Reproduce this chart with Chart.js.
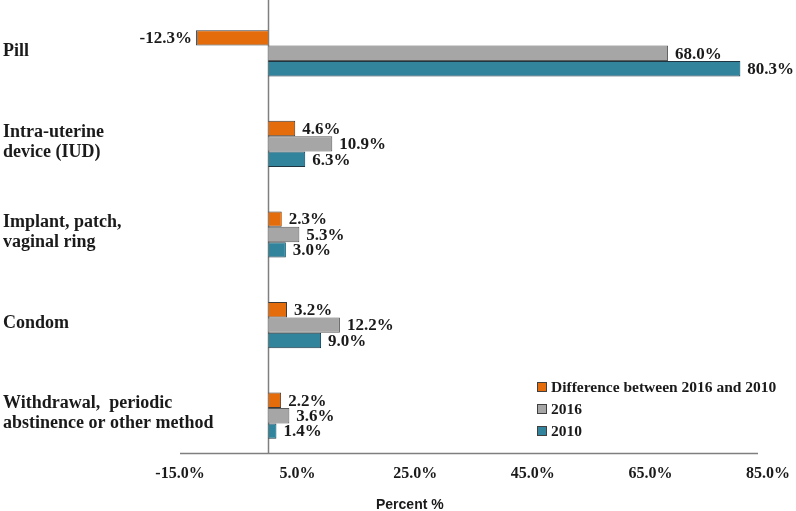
<!DOCTYPE html>
<html>
<head>
<meta charset="utf-8">
<script src="https://cdn.jsdelivr.net/npm/chart.js@4/dist/chart.umd.min.js"></script>
<style>
    body { margin: 0; background: #fff; overflow: hidden; }
    #wrap { position: relative; width: 796px; height: 511px; }
    #contraChart { display: block; }
    #axisTitle {
        position: absolute; left: 376px; top: 496px;
        font: bold 14px "Liberation Sans", Arial, sans-serif; color: #1a1a1a;
        line-height: 16px;
    }
</style>
</head>
<body>
<div id="wrap">
    <canvas id="contraChart" width="796" height="511"></canvas>
    <div id="axisTitle">Percent %</div>
</div>
<script>
// Categorias (de cima para baixo)
var categorias = [
    'Pill',
    ['Intra-uterine', 'device (IUD)'],
    ['Implant, patch,', 'vaginal ring'],
    'Condom',
    ['Withdrawal,  periodic', 'abstinence or other method']
];

var serieNomes = ['Difference between 2016 and 2010', '2016', '2010'];
var diferenca = [-12.3, 4.6, 2.3, 3.2, 2.2];
var valores2016 = [68.0, 10.9, 5.3, 12.2, 3.6];
var valores2010 = [80.3, 6.3, 3.0, 9.0, 1.4];

var ticksX = [-15, 5, 25, 45, 65, 85];

var serif = '"Liberation Serif", "Times New Roman", serif';

// Linha vertical no zero e linha do eixo horizontal (um pouco acima da base das categorias)
var axisLinesPlugin = {
    id: 'axisLines',
    beforeDatasetsDraw: function(chart) {
        var ctx = chart.ctx;
        var area = chart.chartArea;
        var x = Math.round(chart.scales.x.getPixelForValue(0)) + 0.5;
        var yBase = Math.round(area.bottom - 8) + 0.5;
        ctx.save();
        ctx.strokeStyle = '#7f7f7f';
        ctx.lineWidth = 1.5;
        ctx.beginPath();
        ctx.moveTo(x, 0);
        ctx.lineTo(x, yBase);
        ctx.moveTo(area.left, yBase);
        ctx.lineTo(area.right - 10, yBase);
        ctx.stroke();
        ctx.restore();
    }
};

// Nomes das categorias alinhados a esquerda (podem passar da area do eixo)
var categoryLabelsPlugin = {
    id: 'categoryLabels',
    afterDraw: function(chart) {
        var ctx = chart.ctx;
        var yScale = chart.scales.y;
        var lineH = 20;
        ctx.save();
        ctx.font = 'bold 18px ' + serif;
        ctx.fillStyle = '#1a1a1a';
        ctx.textBaseline = 'middle';
        ctx.textAlign = 'left';
        chart.data.labels.forEach(function(lbl, i) {
            var linhas = Array.isArray(lbl) ? lbl : [lbl];
            var yc = yScale.getPixelForValue(i) - 2;
            var y0 = yc - (linhas.length - 1) * lineH / 2;
            for (var k = 0; k < linhas.length; k++) {
                ctx.fillText(linhas[k], 3, y0 + k * lineH);
            }
        });
        ctx.restore();
    }
};

// Rotulos de valor ao lado das barras
var valueLabelsPlugin = {
    id: 'valueLabels',
    afterDatasetsDraw: function(chart) {
        var ctx = chart.ctx;
        ctx.save();
        ctx.font = 'bold 17px ' + serif;
        ctx.fillStyle = '#1a1a1a';
        ctx.textBaseline = 'middle';
        chart.data.datasets.forEach(function(ds, di) {
            var meta = chart.getDatasetMeta(di);
            meta.data.forEach(function(bar, i) {
                var v = ds.data[i];
                var txt = v.toFixed(1) + '%';
                if (v < 0) {
                    ctx.textAlign = 'right';
                    ctx.fillText(txt, bar.x - 4, bar.y + 1);
                } else {
                    ctx.textAlign = 'left';
                    ctx.fillText(txt, bar.x + 7, bar.y + 1);
                }
            });
        });
        ctx.restore();
    }
};

// Legenda dentro da area do grafico
var legendPlugin = {
    id: 'insideLegend',
    afterDraw: function(chart) {
        var ctx = chart.ctx;
        var x0 = 537, y0 = 387, gap = 22;
        ctx.save();
        ctx.font = 'bold 15.5px ' + serif;
        ctx.textBaseline = 'middle';
        ctx.textAlign = 'left';
        chart.data.datasets.forEach(function(ds, i) {
            var y = y0 + i * gap;
            ctx.fillStyle = ds.backgroundColor;
            ctx.fillRect(x0, y - 5, 9, 9);
            ctx.strokeStyle = '#404040';
            ctx.lineWidth = 1;
            ctx.strokeRect(x0 + 0.5, y - 4.5, 9, 9);
            ctx.fillStyle = '#1a1a1a';
            ctx.fillText(ds.label, x0 + 14, y + 1);
        });
        ctx.restore();
    }
};

var chart = new Chart(document.getElementById('contraChart'), {
    type: 'bar',
    data: {
        labels: categorias,
        datasets: [{
            label: serieNomes[0],
            data: diferenca,
            backgroundColor: '#e46c0a',
            borderColor: '#3a3a3a',
            borderWidth: 1
        }, {
            label: serieNomes[1],
            data: valores2016,
            backgroundColor: '#a6a6a6',
            borderColor: '#5a5a5a',
            borderWidth: 1
        }, {
            label: serieNomes[2],
            data: valores2010,
            backgroundColor: '#31849b',
            borderColor: '#1f3540',
            borderWidth: 1
        }]
    },
    options: {
        indexAxis: 'y',
        responsive: false,
        animation: false,
        layout: { padding: { top: 8, right: 28, left: 0, bottom: 0 } },
        datasets: { bar: { categoryPercentage: 0.51, barPercentage: 1.0 } },
        scales: {
            x: {
                min: -15,
                max: 85,
                afterBuildTicks: function(scale) {
                    scale.ticks = ticksX.map(function(v) { return { value: v }; });
                },
                afterFit: function(scale) { scale.height = 50; },
                grid: { display: false },
                border: { display: false },
                ticks: {
                    padding: -5,
                    color: '#1a1a1a',
                    font: { family: serif, size: 16, weight: 'bold' },
                    callback: function(v) { return v.toFixed(1) + '%'; }
                }
            },
            y: {
                afterFit: function(scale) { scale.width = 180; },
                grid: { display: false },
                border: { display: false },
                ticks: { display: false }
            }
        },
        plugins: {
            legend: { display: false },
            tooltip: { enabled: false }
        }
    },
    plugins: [axisLinesPlugin, valueLabelsPlugin, categoryLabelsPlugin, legendPlugin]
});
</script>
</body>
</html>
